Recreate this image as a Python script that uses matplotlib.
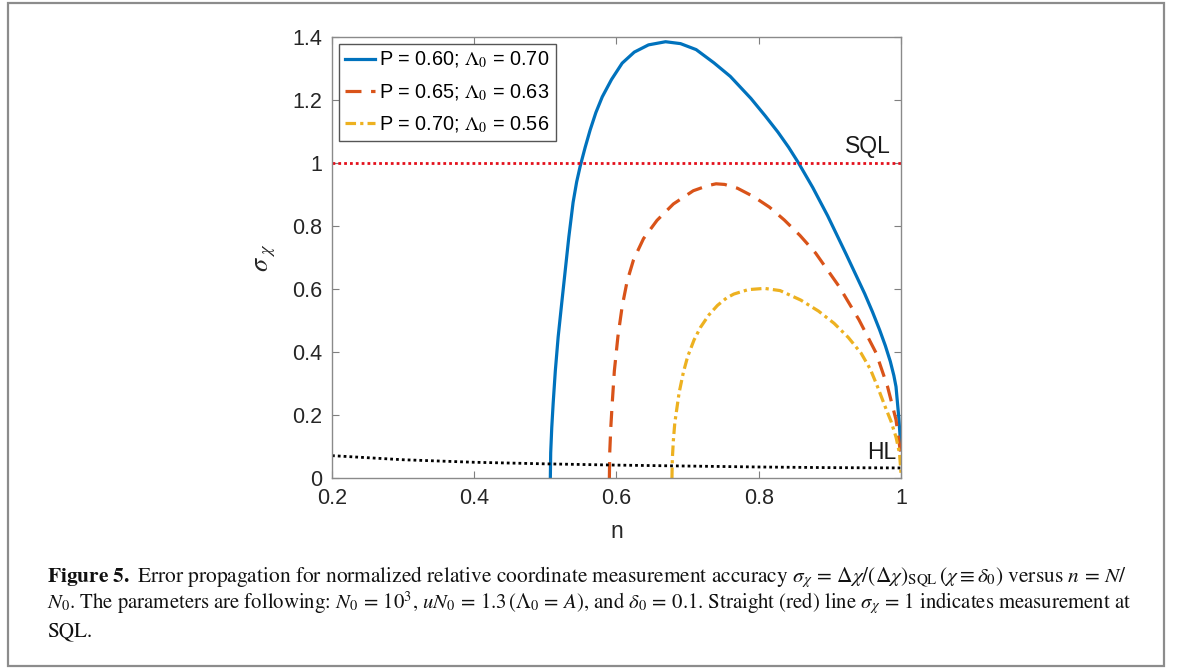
import matplotlib
matplotlib.use("Agg")
import matplotlib.pyplot as plt
from matplotlib.font_manager import FontProperties
from matplotlib.patches import Rectangle
from matplotlib.ticker import FormatStrFormatter

# values
blue_n = [0.507, 0.5075, 0.509, 0.511, 0.514, 0.518, 0.523, 0.528, 0.533, 0.539,
          0.544, 0.549, 0.556, 0.563, 0.571, 0.580, 0.593, 0.608, 0.625, 0.645,
          0.669, 0.690, 0.712, 0.737, 0.760, 0.789, 0.809, 0.827, 0.842, 0.856,
          0.876, 0.897, 0.923, 0.949, 0.960, 0.970, 0.978, 0.985, 0.990, 0.993,
          0.997, 1.0]
blue_v = [0.0, 0.08, 0.16, 0.238, 0.34, 0.448, 0.555, 0.66, 0.765, 0.875,
          0.94, 0.99, 1.05, 1.105, 1.16, 1.21, 1.265, 1.317, 1.352, 1.375,
          1.385, 1.379, 1.36, 1.318, 1.275, 1.205, 1.15, 1.098, 1.05, 1.0,
          0.922, 0.832, 0.71, 0.585, 0.527, 0.47, 0.42, 0.37, 0.325, 0.29,
          0.19, 0.09]

red_n = [0.590, 0.5905, 0.592, 0.594, 0.597, 0.602, 0.608, 0.615, 0.624, 0.638,
         0.657, 0.680, 0.708, 0.728, 0.740, 0.752, 0.770, 0.793, 0.815, 0.836,
         0.858, 0.880, 0.913, 0.941, 0.965, 0.981, 0.993, 1.0]
red_v = [0.0, 0.08, 0.16, 0.237, 0.34, 0.449, 0.545, 0.625, 0.693, 0.760,
         0.818, 0.870, 0.912, 0.928, 0.934, 0.932, 0.920, 0.893, 0.860, 0.819,
         0.77, 0.714, 0.608, 0.502, 0.397, 0.291, 0.185, 0.07]

yel_n = [0.678, 0.6785, 0.680, 0.682, 0.688, 0.694, 0.700, 0.709, 0.718, 0.730,
         0.742, 0.755, 0.765, 0.785, 0.808, 0.830, 0.859, 0.884, 0.906, 0.926,
         0.944, 0.957, 0.967, 0.978, 0.986, 0.993, 0.998, 1.0]
yel_v = [0.0, 0.06, 0.12, 0.175, 0.27, 0.335, 0.385, 0.438, 0.478, 0.518,
         0.548, 0.572, 0.584, 0.598, 0.602, 0.595, 0.565, 0.530, 0.491, 0.446,
         0.396, 0.345, 0.29, 0.225, 0.18, 0.13, 0.078, 0.015]

hl_n = [0.2, 0.3, 0.4, 0.5, 0.6, 0.7, 0.8, 0.9, 1.0]
hl_v = [0.071, 0.058, 0.050, 0.045, 0.041, 0.038, 0.035, 0.033, 0.032]

sql_n = [0.2, 1.0]
sql_v = [1.0, 1.0]

labels = [r"P = 0.60; $\Lambda_0$ = 0.70",
          r"P = 0.65; $\Lambda_0$ = 0.63",
          r"P = 0.70; $\Lambda_0$ = 0.56"]
xticks = [0.2, 0.4, 0.6, 0.8, 1.0]
yticks = [0, 0.2, 0.4, 0.6, 0.8, 1.0, 1.2, 1.4]

caption = [
    r"$\mathbf{Figure\ 5.}$ Error propagation for normalized relative coordinate measurement accuracy "
    r"$\sigma_\chi\,=\,\Delta\chi/(\Delta\chi)_{\rm SQL}\,(\chi\equiv\delta_0)$ versus $n\,=\,N/$",
    r"$N_0$. The parameters are following: $N_0\,=\,10^3$, $uN_0\,=\,1.3\,(\Lambda_0\,=\,A)$, and "
    r"$\delta_0\,=\,0.1$. Straight (red) line $\sigma_\chi\,=\,1$ indicates measurement at",
    "SQL.",
]
caption_sizes = [15.4, 14.95, 15.2]

plt.rcParams['font.family'] = ['Liberation Sans', 'DejaVu Sans']
plt.rcParams['mathtext.fontset'] = 'stix'

fig = plt.figure(figsize=(11.81, 6.68), dpi=100)
ax = fig.add_axes([0.2811, 0.2844, 0.4818, 0.6602])

lw = 2.3
ax.plot(blue_n, blue_v, color='#0072BD', lw=lw, label=labels[0])
ax.plot(red_n, red_v, color='#D95319', lw=lw, linestyle=(0, (5.0, 3.0)), label=labels[1])
ax.plot(yel_n, yel_v, color='#EDB120', lw=lw, linestyle=(0, (3.3, 1.3, 1.0, 1.3)), label=labels[2])
ax.plot(sql_n, sql_v, color='#e4101c', lw=2.0, linestyle=(0, (1, 1.1)), dash_capstyle='butt')
ax.plot(hl_n, hl_v, color='black', lw=2.0, linestyle=(0, (1, 1.1)), dash_capstyle='butt')

ax.text(0.986, 1.016, "SQL", ha='right', va='bottom', fontsize=16.5, color='#1a1a1a')
ax.text(0.993, 0.045, "HL", ha='right', va='bottom', fontsize=16.5, color='#1a1a1a')

ax.set_xlim(0.2, 1.0)
ax.set_ylim(0, 1.4)
ax.set_xticks(xticks)
ax.set_yticks(yticks)
ax.xaxis.set_major_formatter(FormatStrFormatter('%g'))
ax.yaxis.set_major_formatter(FormatStrFormatter('%g'))
ax.tick_params(direction='in', length=5, width=0.8, color='#7f7f7f',
               labelsize=15.5, labelcolor='#262626', top=True, right=True)
ax.tick_params(axis='x', pad=7)
ax.tick_params(axis='y', pad=7)
for s in ax.spines.values():
    s.set_color('#8a8a8a')
    s.set_linewidth(1.0)

ax.set_xlabel("n", fontsize=16.5, color='#262626', labelpad=8)
ax.set_ylabel(r"$\sigma_{\ \chi}$", fontsize=19, color='#262626', labelpad=10)

leg_font = FontProperties(family='Liberation Sans', size=14.3, math_fontfamily='stix')
leg = ax.legend(loc='upper left', bbox_to_anchor=(0.012, 0.985), prop=leg_font,
                handlelength=1.5, handletextpad=0.2, labelspacing=0.6,
                borderpad=0.32, borderaxespad=0, fancybox=False, framealpha=1)
leg.get_frame().set_edgecolor('#555555')
leg.get_frame().set_linewidth(1.0)

# caption below the plot
ys = [1 - 582 / 668, 1 - 609 / 668, 1 - 636 / 668]
for line, y, fs in zip(caption, ys, caption_sizes):
    fig.text(0.0398, y, line, family='STIXGeneral', fontsize=fs, color='#111111',
             ha='left', va='baseline')

# outer frame
fig.patches.append(Rectangle((8 / 1181, 2 / 668), 1156 / 1181, 663 / 668,
                             transform=fig.transFigure, fill=False,
                             edgecolor='#8c8c8c', linewidth=1.6))

fig.savefig("out.png", dpi=100)
